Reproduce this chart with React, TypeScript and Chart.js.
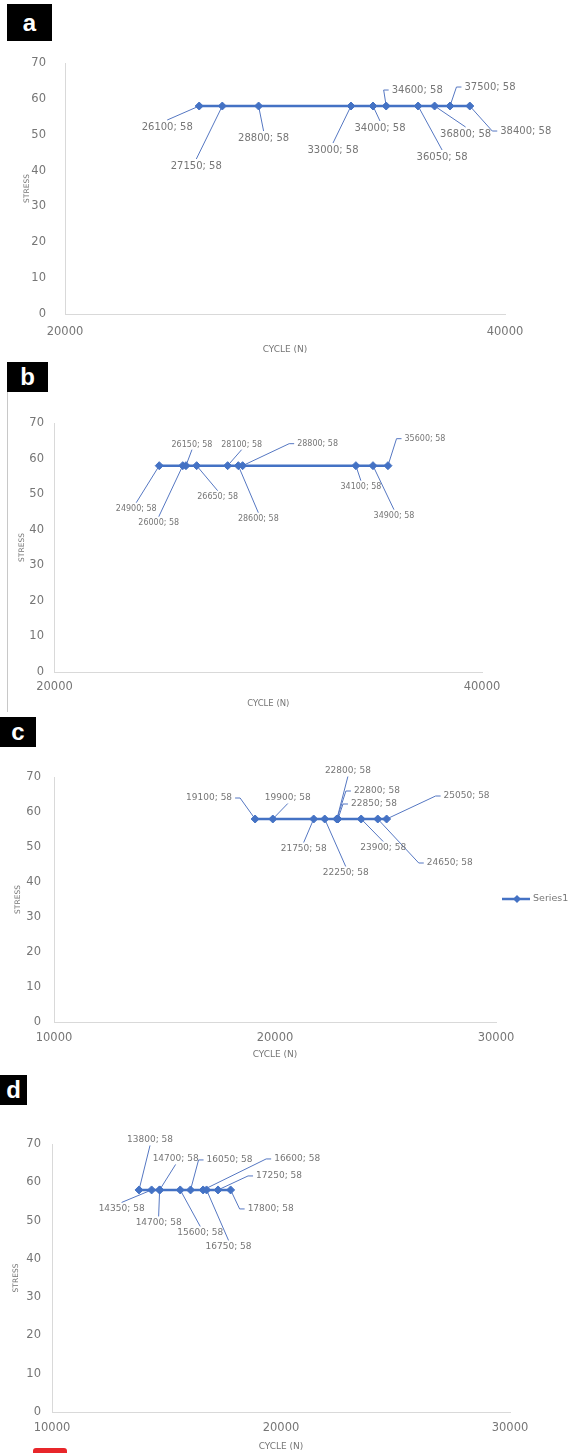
import React, { useEffect, useRef } from 'react';
import { Chart, registerables } from 'chart.js';

Chart.register(...registerables);

// ---------- DATA ----------
const seriesName = 'Series1';
const axisTitleX = 'CYCLE (N)';
const axisTitleY = 'STRESS';

const aCycles = [26100, 27150, 28800, 33000, 34000, 34600, 36050, 36800, 37500, 38400];
const aStress = [58, 58, 58, 58, 58, 58, 58, 58, 58, 58];

const bCycles = [24900, 26000, 26150, 26650, 28100, 28600, 28800, 34100, 34900, 35600];
const bStress = [58, 58, 58, 58, 58, 58, 58, 58, 58, 58];

const cCycles = [19100, 19900, 21750, 22250, 22800, 22800, 22850, 23900, 24650, 25050];
const cStress = [58, 58, 58, 58, 58, 58, 58, 58, 58, 58];

const dCycles = [13800, 14350, 14700, 14700, 15600, 16050, 16600, 16750, 17250, 17800];
const dStress = [58, 58, 58, 58, 58, 58, 58, 58, 58, 58];

const abXRange = [20000, 40000];
const abXStep = 20000;
const cdXRange = [10000, 30000];
const cdXStep = 10000;
const yRange = [0, 70];
const yStep = 10;

// ---------- LABEL LAYOUT (pixel offsets of data labels from their point) ----------
type Side = 't' | 'b' | 'l' | 'r';
type LL = [number, number, Side];

const aLabelLayout: LL[] = [
  [-32, 21, 't'], [-26, 60, 't'], [5, 32, 't'], [-18, 44, 't'], [7, 22, 't'],
  [31, -16, 'l'], [24, 51, 't'], [31, 28, 't'], [40, -19, 'l'], [56, 25, 'l'],
];
const bLabelLayout: LL[] = [
  [-23, 43, 't'], [-24, 57, 't'], [6, -21, 'b'], [21, 31, 't'], [14, -21, 'b'],
  [20, 53, 't'], [75, -22, 'l'], [5, 21, 't'], [21, 50, 't'], [37, -27, 'l'],
];
const cLabelLayout: LL[] = [
  [-46, -21, 'r'], [15, -21, 'b'], [-10, 30, 't'], [21, 54, 't'], [11, -48, 'b'],
  [40, -28, 'l'], [36, -15, 'l'], [22, 29, 't'], [72, 44, 'l'], [80, -23, 'l'],
];
const dLabelLayout: LL[] = [
  [11, -50, 'b'], [-30, 19, 't'], [16, -31, 'b'], [-1, 33, 't'], [20, 43, 't'],
  [39, -30, 'l'], [94, -31, 'l'], [22, 57, 't'], [61, -14, 'l'], [40, 19, 'l'],
];

// ---------- STYLE ----------
const PAGE_W = 571;
const BLUE = '#4472C4';
const LEADER = '#5577c2';
const TEXT = '#767676';
const AXIS = '#d9d9d9';
const FONT = '"DejaVu Sans", sans-serif';

interface Panel {
  key: string;
  letter: string;
  cycles: number[];
  stress: number[];
  xRange: number[];
  xStep: number;
  top: number; // canvas top (page)
  bottom: number; // canvas bottom (page)
  L: number; R: number; T: number; B: number; // chart area (page)
  xTickY: number;
  xTitleY: number;
  xTitleSize: number;
  yTitleX: number;
  yTickRight: number;
  labelSize: number;
  layout: LL[];
  legend?: boolean;
}

const panels: Panel[] = [
  {
    key: 'a', letter: 'a', cycles: aCycles, stress: aStress, xRange: abXRange, xStep: abXStep,
    top: 33, bottom: 358, L: 65, R: 505, T: 63, B: 314,
    xTickY: 332, xTitleY: 350, xTitleSize: 9, yTitleX: 27, yTickRight: 46, labelSize: 10, layout: aLabelLayout,
  },
  {
    key: 'b', letter: 'b', cycles: bCycles, stress: bStress, xRange: abXRange, xStep: abXStep,
    top: 393, bottom: 712, L: 54.5, R: 482, T: 423, B: 672,
    xTickY: 687, xTitleY: 704, xTitleSize: 8.5, yTitleX: 22, yTickRight: 44, labelSize: 8, layout: bLabelLayout,
  },
  {
    key: 'c', letter: 'c', cycles: cCycles, stress: cStress, xRange: cdXRange, xStep: cdXStep,
    top: 748, bottom: 1063, L: 54, R: 496, T: 777, B: 1022,
    xTickY: 1038, xTitleY: 1055, xTitleSize: 9, yTitleX: 18, yTickRight: 41, labelSize: 9, layout: cLabelLayout,
    legend: true,
  },
  {
    key: 'd', letter: 'd', cycles: dCycles, stress: dStress, xRange: cdXRange, xStep: cdXStep,
    top: 1110, bottom: 1453, L: 52, R: 510, T: 1144, B: 1412,
    xTickY: 1428, xTitleY: 1447, xTitleSize: 9, yTitleX: 16, yTickRight: 41, labelSize: 9, layout: dLabelLayout,
  },
];

function labelPlugin(p: Panel) {
  const geom = (chart: any) => {
    const ctx = chart.ctx as CanvasRenderingContext2D;
    ctx.font = `${p.labelSize}px ${FONT}`;
    const meta = chart.getDatasetMeta(0);
    return meta.data.map((el: any, i: number) => {
      const text = `${p.cycles[i]}; ${p.stress[i]}`;
      const w = ctx.measureText(text).width;
      const [dx, dy, side] = p.layout[i];
      const cx = el.x + dx;
      const cy = el.y + dy;
      const h = p.labelSize;
      let path: number[][];
      if (side === 't') path = [[el.x, el.y], [cx, cy - h / 2 - 2]];
      else if (side === 'b') path = [[el.x, el.y], [cx, cy + h / 2 + 1]];
      else if (side === 'l') {
        const ax = cx - w / 2 - 3;
        path = [[el.x, el.y], [ax - 5, cy], [ax, cy]];
      } else {
        const ax = cx + w / 2 + 3;
        path = [[el.x, el.y], [ax + 5, cy], [ax, cy]];
      }
      return { text, cx, cy, path };
    });
  };
  return {
    id: 'dataLabels' + p.key,
    beforeDatasetsDraw(chart: any) {
      const ctx = chart.ctx as CanvasRenderingContext2D;
      const items = geom(chart);
      ctx.save();
      ctx.strokeStyle = LEADER;
      ctx.lineWidth = 1;
      items.forEach((it: any) => {
        ctx.beginPath();
        it.path.forEach((pt: number[], k: number) => (k === 0 ? ctx.moveTo(pt[0], pt[1]) : ctx.lineTo(pt[0], pt[1])));
        ctx.stroke();
      });
      ctx.restore();
    },
    afterDatasetsDraw(chart: any) {
      const ctx = chart.ctx as CanvasRenderingContext2D;
      const items = geom(chart);
      ctx.save();
      ctx.fillStyle = TEXT;
      ctx.textAlign = 'center';
      ctx.textBaseline = 'middle';
      ctx.font = `${p.labelSize}px ${FONT}`;
      items.forEach((it: any) => ctx.fillText(it.text, it.cx, it.cy));
      if (p.legend) {
        const ly = 899 - p.top;
        ctx.strokeStyle = BLUE;
        ctx.lineWidth = 2.5;
        ctx.beginPath();
        ctx.moveTo(502, ly);
        ctx.lineTo(530, ly);
        ctx.stroke();
        ctx.fillStyle = BLUE;
        ctx.beginPath();
        ctx.moveTo(517, ly - 4);
        ctx.lineTo(521, ly);
        ctx.lineTo(517, ly + 4);
        ctx.lineTo(513, ly);
        ctx.closePath();
        ctx.fill();
        ctx.fillStyle = TEXT;
        ctx.textAlign = 'left';
        ctx.font = `9.5px ${FONT}`;
        ctx.fillText(chart.data.datasets[0].label, 533, ly);
      }
      ctx.restore();
    },
  };
}

function PanelChart({ p }: { p: Panel }) {
  const ref = useRef<HTMLCanvasElement | null>(null);
  const h = p.bottom - p.top;
  useEffect(() => {
    if (!ref.current) return;
    const tickSize = 11.5;
    const tickLH = tickSize * 1.2;
    const xTitleLH = p.xTitleSize * 1.2;
    const yTitleSize = 7.5;
    const chart = new Chart(ref.current, {
      type: 'line',
      data: {
        datasets: [
          {
            label: seriesName,
            data: p.cycles.map((x, i) => ({ x, y: p.stress[i] })),
            borderColor: BLUE,
            backgroundColor: BLUE,
            borderWidth: 2.5,
            pointStyle: 'rectRot',
            pointRadius: 4,
            pointBorderWidth: 1,
            pointBackgroundColor: BLUE,
            pointBorderColor: BLUE,
            tension: 0,
          } as any,
        ],
      },
      options: {
        responsive: false,
        animation: false,
        layout: { padding: { top: p.T - p.top, right: PAGE_W - p.R, left: 0, bottom: 0 } },
        plugins: { legend: { display: false }, tooltip: { enabled: false } },
        scales: {
          x: {
            type: 'linear',
            min: p.xRange[0],
            max: p.xRange[1],
            ticks: {
              stepSize: p.xStep,
              callback: (v: any) => String(v),
              color: TEXT,
              font: { family: FONT, size: tickSize },
              padding: p.xTickY - p.B - tickLH / 2,
              maxRotation: 0,
              autoSkip: false,
            },
            grid: { display: false, drawTicks: false },
            border: { display: true, color: AXIS, width: 1 },
            title: {
              display: true,
              text: axisTitleX,
              color: TEXT,
              font: { family: FONT, size: p.xTitleSize },
              padding: { top: 0, bottom: p.bottom - p.xTitleY - xTitleLH / 2 },
            },
            afterFit: (s: any) => {
              s.height = p.bottom - p.B;
            },
          },
          y: {
            min: yRange[0],
            max: yRange[1],
            ticks: {
              stepSize: yStep,
              color: TEXT,
              font: { family: FONT, size: tickSize },
              padding: p.L - p.yTickRight,
            },
            grid: { display: false, drawTicks: false },
            border: { display: true, color: AXIS, width: 1 },
            title: {
              display: true,
              text: axisTitleY,
              color: TEXT,
              font: { family: FONT, size: yTitleSize },
              padding: { top: p.yTitleX - (yTitleSize * 1.2) / 2, bottom: 0 },
            },
            afterFit: (s: any) => {
              s.width = p.L;
            },
          },
        },
      } as any,
      plugins: [labelPlugin(p) as any],
    });
    return () => chart.destroy();
  }, [p]);
  return (
    <canvas
      ref={ref}
      width={PAGE_W}
      height={h}
      style={{ position: 'absolute', left: 0, top: p.top, width: PAGE_W, height: h }}
    />
  );
}

const letterBoxes = [
  { letter: 'a', x: 7, y: 4, w: 45, h: 37 },
  { letter: 'b', x: 7, y: 362, w: 41, h: 30 },
  { letter: 'c', x: 0, y: 717, w: 36, h: 30 },
  { letter: 'd', x: 0, y: 1075, w: 27, h: 30 },
];

export default function App() {
  return (
    <div
      style={{
        position: 'absolute',
        left: 0,
        top: 0,
        width: PAGE_W,
        height: 1453,
        background: '#fff',
        overflow: 'hidden',
      }}
    >
      {panels.map((p) => (
        <PanelChart key={p.key} p={p} />
      ))}
      {/* left border line beside panel b */}
      <div style={{ position: 'absolute', left: 7, top: 392, width: 1, height: 320, background: '#c8c8c8' }} />
      {letterBoxes.map((b) => (
        <div
          key={b.letter}
          style={{
            position: 'absolute',
            left: b.x,
            top: b.y,
            width: b.w,
            height: b.h,
            background: '#000',
            color: '#fff',
            fontFamily: '"Liberation Sans", Arial, sans-serif',
            fontWeight: 'bold',
            fontSize: 24,
            lineHeight: `${b.h}px`,
            textAlign: 'center',
          }}
        >
          {b.letter}
        </div>
      ))}
      <div
        style={{
          position: 'absolute',
          left: 33,
          top: 1448,
          width: 34,
          height: 8,
          background: '#e8262a',
          borderRadius: 3,
        }}
      />
    </div>
  );
}
